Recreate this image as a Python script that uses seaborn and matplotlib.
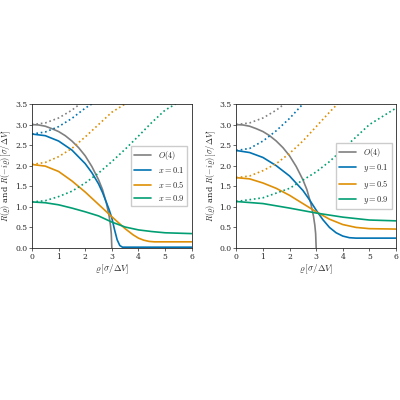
import numpy as np
import pandas as pd
import matplotlib
matplotlib.use("Agg")
import matplotlib.pyplot as plt
import seaborn as sns

sns.set_theme(style="ticks")
plt.rcParams["font.family"] = ["DejaVu Serif"]
plt.rcParams["mathtext.fontset"] = "cm"

GREY, BLUE, ORANGE, GREEN = "#808080", "#0173b2", "#de8f05", "#029e73"

# O(4) reference curves (same in both panels)
o4_x = [0, 0.25, 0.5, 0.75, 1, 1.25, 1.5, 1.75, 2, 2.25, 2.5, 2.65, 2.8, 2.9, 2.95, 2.98, 3.0]
o4_y = [3.0, 2.99, 2.96, 2.9, 2.83, 2.73, 2.6, 2.44, 2.24, 1.98, 1.66, 1.42, 1.08, 0.77, 0.55, 0.35, 0.0]
o4_dx = [0, 0.5, 1, 1.5, 1.8]
o4_dy = [3.0, 3.04, 3.16, 3.35, 3.5]

# left panel (x = 0.1, 0.5, 0.9)
left_labels = [r"$x = 0.1$", r"$x = 0.5$", r"$x = 0.9$"]
left_solid = [
    ([0, 0.5, 1, 1.5, 2, 2.25, 2.5, 2.65, 2.8, 2.9, 3.0, 3.1, 3.2, 3.3, 3.4, 6],
     [2.77, 2.73, 2.6, 2.38, 2.05, 1.83, 1.56, 1.35, 1.1, 0.93, 0.73, 0.45, 0.2, 0.06, 0.02, 0.02]),
    ([0, 0.5, 1, 1.5, 2, 2.5, 3, 3.5, 3.8, 4, 4.2, 4.4, 4.6, 6],
     [2.03, 1.99, 1.86, 1.63, 1.36, 1.06, 0.76, 0.47, 0.32, 0.24, 0.19, 0.16, 0.15, 0.15]),
    ([0, 0.5, 1, 1.5, 2, 2.5, 3, 3.5, 4, 4.5, 5, 6],
     [1.12, 1.1, 1.05, 0.97, 0.88, 0.78, 0.63, 0.51, 0.44, 0.4, 0.37, 0.35]),
]
left_dotted = [
    ([0, 0.5, 1, 1.5, 2, 2.25], [2.77, 2.82, 2.95, 3.15, 3.4, 3.5]),
    ([0, 0.5, 1, 1.5, 2, 2.5, 3, 3.5], [2.03, 2.08, 2.22, 2.42, 2.7, 3.0, 3.3, 3.5]),
    ([0, 0.5, 1, 1.5, 2, 2.5, 3, 3.5, 4, 4.5, 5, 5.4],
     [1.12, 1.15, 1.25, 1.38, 1.58, 1.82, 2.1, 2.4, 2.72, 3.05, 3.35, 3.5]),
]

# right panel (y = 0.1, 0.5, 0.9)
right_labels = [r"$y = 0.1$", r"$y = 0.5$", r"$y = 0.9$"]
right_solid = [
    ([0, 0.5, 1, 1.5, 2, 2.5, 2.75, 3, 3.25, 3.5, 3.75, 4, 4.25, 4.5, 6],
     [2.37, 2.32, 2.2, 2.0, 1.75, 1.4, 1.17, 0.92, 0.69, 0.5, 0.37, 0.29, 0.25, 0.24, 0.24]),
    ([0, 0.5, 1, 1.5, 2, 2.5, 3, 3.5, 4, 4.5, 5, 6],
     [1.71, 1.68, 1.58, 1.45, 1.28, 1.08, 0.88, 0.7, 0.57, 0.5, 0.47, 0.46]),
    ([0, 1, 2, 3, 4, 5, 6], [1.13, 1.08, 0.97, 0.85, 0.75, 0.68, 0.66]),
]
right_dotted = [
    ([0, 0.5, 1, 1.5, 2, 2.5], [2.37, 2.42, 2.6, 2.85, 3.15, 3.5]),
    ([0, 0.5, 1, 1.5, 2, 2.5, 3, 3.5, 3.8], [1.71, 1.75, 1.88, 2.05, 2.3, 2.6, 2.95, 3.3, 3.5]),
    ([0, 1, 2, 3, 3.5, 4, 4.5, 5, 5.5, 6], [1.13, 1.22, 1.45, 1.85, 2.1, 2.4, 2.7, 3.0, 3.2, 3.4]),
]

colors = [BLUE, ORANGE, GREEN]

fig, axes = plt.subplots(1, 2, figsize=(4, 4), dpi=100)
plt.subplots_adjust(left=0.08, right=0.99, top=0.74, bottom=0.38, wspace=0.28)

for ax, labels, solid, dotted in zip(axes, [left_labels, right_labels],
                                     [left_solid, right_solid], [left_dotted, right_dotted]):
    sns.lineplot(x=o4_x, y=o4_y, color=GREY, lw=1.2, ax=ax, label=r"$O(4)$")
    sns.lineplot(x=o4_dx, y=o4_dy, color=GREY, lw=1.2, ls=":", ax=ax)
    for lab, c, (sx, sy), (dx, dy) in zip(labels, colors, solid, dotted):
        sns.lineplot(x=sx, y=sy, color=c, lw=1.2, ax=ax, label=lab)
        sns.lineplot(x=dx, y=dy, color=c, lw=1.2, ls=":", ax=ax)
    ax.set_xlim(0, 6)
    ax.set_ylim(0, 3.5)
    ax.set_xticks(range(7))
    ax.set_yticks(np.arange(0, 3.6, 0.5))
    ax.tick_params(labelsize=5.5, length=2, width=0.5, pad=1.5)
    for s in ax.spines.values():
        s.set_linewidth(0.6)
    ax.set_xlabel(r"$\varrho\,[\sigma/\Delta V]$", fontsize=6.5, labelpad=1)
    ax.set_ylabel(r"$R(\varrho)$ and $R(-i\varrho)\,[\sigma/\Delta V]$", fontsize=6, labelpad=1)
    ax.legend(loc="center right", fontsize=6, handlelength=2, borderpad=0.4,
              labelspacing=0.4, fancybox=False, framealpha=1)

fig.savefig("out.png", dpi=100)
